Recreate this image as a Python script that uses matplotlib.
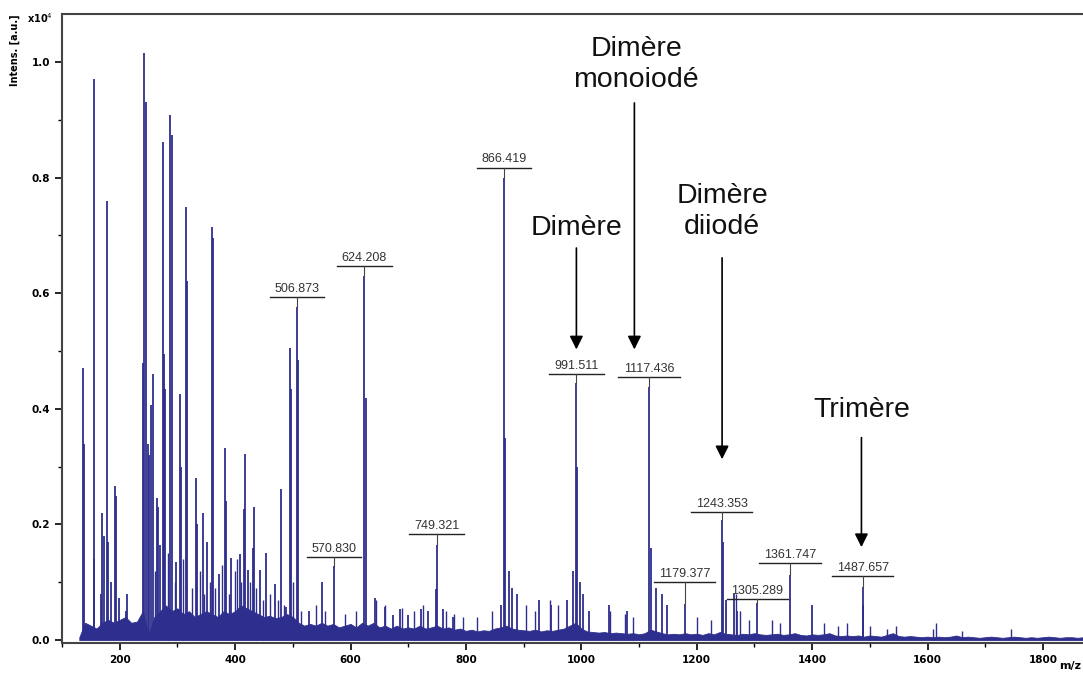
import numpy as np
import matplotlib
matplotlib.use("Agg")
import matplotlib.pyplot as plt
from matplotlib.ticker import MultipleLocator

# main peaks (m/z, relative intensity x10^4)
peak_mz = [137, 138, 155, 156, 170, 172, 168, 178, 180, 185, 192, 193.5, 199, 211, 213,
           240, 242.6, 245.5, 249.6, 251, 254, 257, 264, 266, 270, 274.4, 276, 279,
           288, 290.6, 297.5, 304, 305.6, 315.4, 316.6, 332, 334, 344, 351, 360.5, 362.3,
           371.5, 383, 384.2, 392.8, 408.4, 414.8, 416.5, 423, 430.4, 432.7, 443, 454,
           468.5, 479.5, 488, 495.7, 496.8, 506.9, 508.8, 528.5, 550.5, 570.8, 624.2, 626,
           641.6, 659, 673.4, 686, 699.4, 722.5, 734, 748.5, 749.3, 760.5, 777.8,
           866.4, 868, 875, 880, 860, 889, 927, 948, 975, 985, 991.5, 993, 998, 1003,
           1014, 1048, 1080, 1117.4, 1120, 1130, 1140, 1148, 1179.4, 1243.4, 1245, 1250,
           1265, 1270, 1305.3, 1361.7, 1400, 1487.7, 1489]
peak_h = [0.47, 0.34, 0.97, 0.14, 0.22, 0.18, 0.08, 0.76, 0.17, 0.10, 0.266, 0.25, 0.073, 0.05, 0.08,
          0.48, 1.015, 0.93, 0.34, 0.32, 0.407, 0.46, 0.245, 0.23, 0.164, 0.862, 0.495, 0.435,
          0.908, 0.873, 0.135, 0.425, 0.30, 0.749, 0.622, 0.28, 0.20, 0.22, 0.17, 0.714, 0.696,
          0.114, 0.333, 0.24, 0.142, 0.149, 0.227, 0.322, 0.121, 0.16, 0.23, 0.121, 0.15,
          0.097, 0.262, 0.057, 0.506, 0.435, 0.576, 0.485, 0.05, 0.10, 0.128, 0.629, 0.418,
          0.073, 0.057, 0.043, 0.054, 0.043, 0.054, 0.05, 0.088, 0.164, 0.054, 0.04,
          0.80, 0.35, 0.12, 0.09, 0.06, 0.08, 0.07, 0.06, 0.07, 0.12, 0.445, 0.30, 0.10, 0.08,
          0.05, 0.06, 0.05, 0.438, 0.16, 0.09, 0.08, 0.06, 0.062, 0.208, 0.17, 0.07,
          0.08, 0.05, 0.064, 0.112, 0.06, 0.092, 0.06]

# smaller spikes in the grass
small_mz = [262, 283, 295, 310, 325, 340, 346, 356, 366, 377, 390, 400, 404, 411, 426, 437,
            448, 460, 474, 484, 500, 515, 540, 555, 590, 610, 645, 660, 690, 710, 725, 765,
            780, 795, 820, 845, 905, 920, 945, 960, 1050, 1075, 1090, 1200, 1225, 1268,
            1275, 1290, 1330, 1345, 1420, 1445, 1460, 1500, 1530, 1545, 1610, 1615, 1660, 1745]
small_h = [0.12, 0.15, 0.10, 0.14, 0.09, 0.12, 0.08, 0.10, 0.09, 0.13, 0.08, 0.12, 0.14, 0.10, 0.10, 0.09,
           0.07, 0.08, 0.07, 0.06, 0.10, 0.05, 0.06, 0.05, 0.045, 0.05, 0.07, 0.06, 0.055, 0.05, 0.06, 0.05,
           0.045, 0.04, 0.04, 0.05, 0.06, 0.05, 0.07, 0.06, 0.05, 0.045, 0.04, 0.04, 0.035, 0.08,
           0.05, 0.035, 0.035, 0.03, 0.03, 0.025, 0.03, 0.025, 0.02, 0.025, 0.02, 0.03, 0.015, 0.02]

# noise level of the baseline, every 10 m/z from 130 to 1890
base_h = [0.005, 0.03, 0.025, 0.02, 0.03, 0.035, 0.03, 0.035, 0.04, 0.03, 0.032, 0.05, 0.01,
          0.04, 0.05, 0.06, 0.05, 0.055, 0.045, 0.05, 0.04, 0.045, 0.05, 0.045, 0.04, 0.05,
          0.045, 0.05, 0.06, 0.055, 0.05, 0.045, 0.04, 0.042, 0.038, 0.04, 0.045, 0.04, 0.03,
          0.025, 0.028, 0.025, 0.03, 0.025, 0.028, 0.022, 0.025, 0.028, 0.022, 0.03, 0.025,
          0.03, 0.022, 0.025, 0.02, 0.025, 0.02, 0.022, 0.02, 0.025, 0.02, 0.022, 0.025, 0.02,
          0.022, 0.018, 0.02, 0.016, 0.018, 0.015, 0.017, 0.016, 0.02, 0.022, 0.025, 0.02,
          0.018, 0.017, 0.016, 0.018, 0.015, 0.017, 0.016, 0.018, 0.02, 0.025, 0.03, 0.02,
          0.015, 0.014, 0.013, 0.014, 0.012, 0.013, 0.012, 0.011, 0.012, 0.01, 0.012, 0.018,
          0.015, 0.012, 0.01, 0.011, 0.01, 0.012, 0.01, 0.011, 0.009, 0.012, 0.01, 0.014,
          0.011, 0.01, 0.009, 0.011, 0.01, 0.012, 0.01, 0.009, 0.01, 0.011, 0.009, 0.01,
          0.012, 0.009, 0.008, 0.01, 0.009, 0.01, 0.012, 0.008, 0.007, 0.008, 0.007, 0.008,
          0.006, 0.008, 0.007, 0.006, 0.009, 0.012, 0.007, 0.006, 0.007, 0.006, 0.005, 0.006,
          0.005, 0.006, 0.005, 0.006, 0.008, 0.005, 0.006, 0.005, 0.004, 0.005, 0.006, 0.005,
          0.004, 0.005, 0.006, 0.005, 0.004, 0.005, 0.004, 0.005, 0.006, 0.005, 0.004, 0.005,
          0.005, 0.004, 0.005, 0.006, 0.005]
base_mz = [130 + 10 * i for i in range(len(base_h))]

# labelled peaks: text, tick m/z, underline height, peak top below it
lab_text = ["506.873", "624.208", "570.830", "749.321", "866.419", "991.511", "1117.436",
            "1179.377", "1243.353", "1305.289", "1361.747", "1487.657"]
lab_mz = [506.9, 624.2, 570.8, 749.3, 866.4, 991.5, 1117.4, 1179.4, 1243.4, 1305.3, 1361.7, 1487.7]
lab_y = [0.593, 0.647, 0.144, 0.183, 0.817, 0.460, 0.455, 0.100, 0.221, 0.071, 0.133, 0.111]
lab_top = [0.576, 0.629, 0.128, 0.164, 0.80, 0.445, 0.438, 0.062, 0.208, 0.064, 0.112, 0.092]

# annotations: text, text position, arrow x, arrow start, arrow end
ann_text = ["Dimère", "Dimère\nmonoiodé", "Dimère\ndiiodé", "Trimère"]
ann_x = [991, 1095, 1244, 1487]
ann_y = [0.713, 0.995, 0.742, 0.398]
arr_x = [991.5, 1092, 1244, 1485.5]
arr_y0 = [0.683, 0.934, 0.666, 0.355]
arr_y1 = [0.498, 0.498, 0.308, 0.156]

blue = '#2e2e8e'

fig = plt.figure(figsize=(10.83, 6.75), dpi=100)
ax = fig.add_axes([62 / 1083, 32 / 675, 1800 * 0.577 / 1083, 629 / 675])

ax.fill_between(base_mz, 0, base_h, color=blue, lw=0.6)
ax.vlines(small_mz, 0, small_h, color=blue, lw=1.0)
ax.vlines(peak_mz, 0, peak_h, color=blue, lw=1.3)

for t, x, y, top in zip(lab_text, lab_mz, lab_y, lab_top):
    hw = (len(t) * 6.9 / 2 + 3) / 0.577
    ax.plot([x - hw, x + hw], [y, y], color='#222222', lw=1.0)
    ax.plot([x, x], [y, min(top, y - 0.008)], color='#444444', lw=0.8)
    ax.text(x, y + 0.004, t, ha='center', va='bottom', fontsize=9,
            family='Liberation Sans', color='#333333')

for t, x, y, xa, y0, y1 in zip(ann_text, ann_x, ann_y, arr_x, arr_y0, arr_y1):
    ax.text(x, y, t, ha='center', va='center', fontsize=20.5, family='Liberation Sans',
            color='#111111', linespacing=1.25)
    ax.annotate('', xy=(xa, y1), xytext=(xa, y0),
                arrowprops=dict(arrowstyle='-|>', color='black', lw=1.2, mutation_scale=20))

ax.set_xlim(100, 1900)
ax.set_ylim(-0.005, 1.083)
ax.xaxis.set_minor_locator(MultipleLocator(100))
ax.yaxis.set_minor_locator(MultipleLocator(0.1))
ax.set_xticks(range(200, 1900, 200))
ax.set_xticklabels([str(v) for v in range(200, 1900, 200)])
ax.set_yticks([0, 0.2, 0.4, 0.6, 0.8, 1.0])
ax.set_yticklabels(['0.0', '0.2', '0.4', '0.6', '0.8', '1.0'])
ax.tick_params(which='major', length=5, width=1.2, labelsize=7.5, colors='black')
ax.tick_params(which='minor', length=3, width=1.0)
for lb in ax.get_xticklabels() + ax.get_yticklabels():
    lb.set_fontweight('bold')

for s in ax.spines.values():
    s.set_color('#444444')
    s.set_linewidth(1.5)

fig.text(15 / 1083, 1 - 50 / 675, 'Intens. [a.u.]', rotation=90, ha='center', va='center',
         fontsize=7, fontweight='bold')
fig.text(40 / 1083, 1 - 18 / 675, 'x10$^4$', ha='center', va='center', fontsize=7,
         fontweight='bold')
fig.text(1081 / 1083, 1 - 666 / 675, 'm/z', ha='right', va='center', fontsize=8,
         fontweight='bold')

fig.savefig('out.png', dpi=100)
